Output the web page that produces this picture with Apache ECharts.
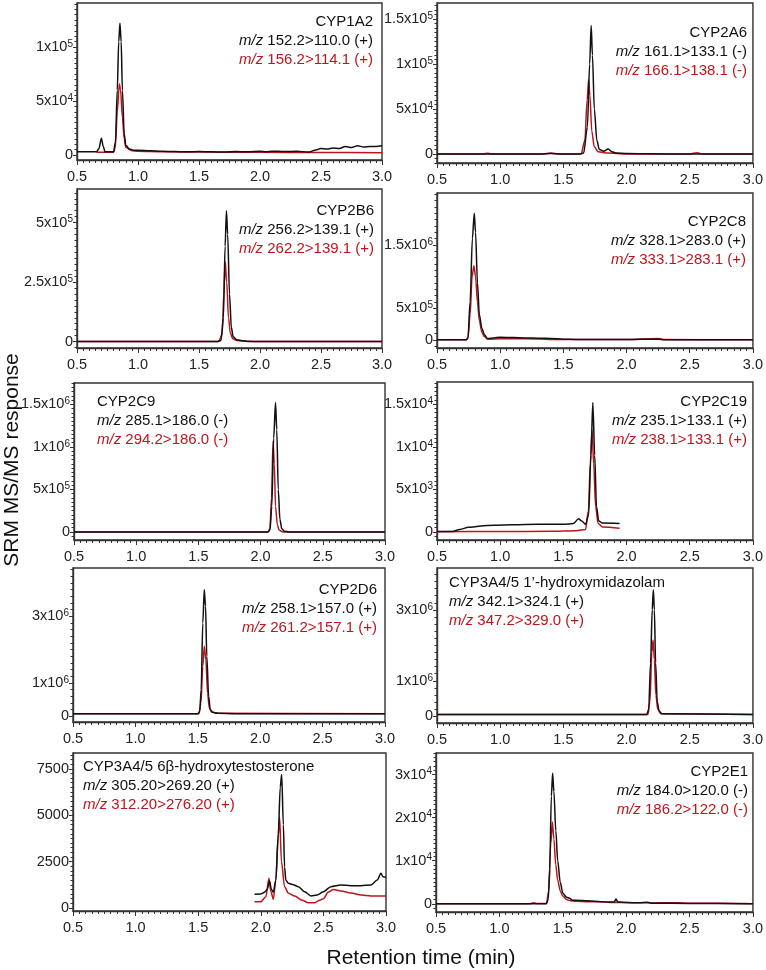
<!DOCTYPE html>
<html><head><meta charset="utf-8">
<script src="https://cdn.jsdelivr.net/npm/echarts@6/dist/echarts.min.js"></script>
<style>html,body{margin:0;padding:0;background:#fff}#c{width:766px;height:970px}</style>
</head><body><div id="c"></div>
<script>
// ---------- DATA (retention time [min], SRM response) ----------
const cyp1a2Black = [[0.5,3000],[0.66,3000],[0.68,6000],[0.70,15500],[0.715,8000],[0.73,3000],[0.80,3000],[0.815,12000],[0.83,60000],[0.842,105000],[0.852,122000],[0.862,105000],[0.872,60000],[0.887,20000],[0.9,9000],[0.93,5500],[0.97,4500],[1.0,4500],[1.1,4000],[1.2,3500],[1.3,3200],[1.4,3000],[1.5,3300],[1.6,3000],[1.7,2800],[1.8,3300],[1.9,3000],[2.0,3500],[2.05,3000],[2.1,3600],[2.2,3200],[2.3,3500],[2.4,2800],[2.45,4500],[2.5,6000],[2.55,5500],[2.6,6500],[2.65,6000],[2.7,8000],[2.75,7000],[2.8,8500],[2.85,7500],[2.9,8000],[2.95,8000],[3.0,8500]];
const cyp1a2Red = [[0.66,2500],[0.80,2500],[0.815,8000],[0.83,40000],[0.847,66000],[0.857,60000],[0.872,35000],[0.887,15000],[0.9,7000],[0.95,4000],[1.0,3500],[1.2,3000],[1.5,2800],[2.0,2500],[2.5,2300],[3.0,2200]];
const cyp2a6Black = [[0.5,0],[1.3,0],[1.4,500],[1.5,0],[1.63,0],[1.66,1000],[1.69,30000],[1.708,100000],[1.72,143000],[1.73,110000],[1.745,50000],[1.765,15000],[1.785,5000],[1.82,3000],[1.855,5500],[1.885,2500],[1.92,1000],[2.0,500],[2.2,300],[2.5,0],[3.0,0]];
const cyp2a6Red = [[0.5,0],[0.85,0],[0.9,800],[0.95,0],[1.35,0],[1.4,1000],[1.45,0],[1.64,0],[1.67,15000],[1.688,60000],[1.70,83000],[1.71,65000],[1.725,25000],[1.745,8000],[1.775,2500],[1.85,1000],[2.0,0],[2.5,0],[2.56,1500],[2.6,0],[3.0,0]];
const cyp2b6Black = [[0.5,0],[1.65,0],[1.68,5000],[1.70,100000],[1.714,400000],[1.725,550000],[1.735,450000],[1.75,200000],[1.765,60000],[1.78,20000],[1.81,8000],[1.86,3000],[1.9,1000],[2.0,0],[3.0,0]];
const cyp2b6Red = [[0.5,0],[1.66,0],[1.69,30000],[1.703,200000],[1.715,335000],[1.727,250000],[1.742,100000],[1.757,35000],[1.777,12000],[1.81,4000],[1.9,0],[3.0,0]];
const cyp2c8Black = [[0.5,0],[0.73,0],[0.745,30000],[0.762,600000],[0.78,1600000],[0.795,2000000],[0.805,1700000],[0.82,900000],[0.835,400000],[0.855,180000],[0.875,80000],[0.9,20000],[0.95,30000],[1.0,40000],[1.1,35000],[1.2,30000],[1.3,25000],[1.4,20000],[1.5,10000],[1.6,5000],[1.8,5000],[2.0,3000],[2.25,10000],[2.3,2000],[2.5,0],[3.0,0]];
const cyp2c8Red = [[0.5,0],[0.73,0],[0.745,20000],[0.762,400000],[0.778,1000000],[0.792,1170000],[0.805,1000000],[0.82,600000],[0.835,300000],[0.855,120000],[0.875,50000],[0.9,10000],[1.0,15000],[1.2,15000],[1.5,5000],[2.0,3000],[2.25,20000],[2.3,3000],[3.0,0]];
const cyp2c9Black = [[0.5,0],[2.06,0],[2.075,20000],[2.09,300000],[2.105,1100000],[2.12,1520000],[2.13,1200000],[2.142,500000],[2.155,150000],[2.17,40000],[2.19,10000],[2.23,0],[3.0,0]];
const cyp2c9Red = [[0.5,0],[2.06,0],[2.075,40000],[2.088,400000],[2.10,1070000],[2.11,800000],[2.12,300000],[2.135,80000],[2.15,20000],[2.18,0],[3.0,0]];
const cyp2c19Black = [[0.5,50],[0.62,50],[0.68,300],[0.75,550],[0.85,700],[0.95,800],[1.1,850],[1.3,900],[1.5,900],[1.58,1000],[1.62,1550],[1.645,1300],[1.675,900],[1.70,2000],[1.718,9000],[1.733,15200],[1.748,9000],[1.762,3000],[1.78,1300],[1.81,1050],[1.945,1000]];
const cyp2c19Red = [[0.5,30],[1.0,60],[1.4,80],[1.6,150],[1.675,300],[1.698,2500],[1.713,8000],[1.727,11900],[1.74,8000],[1.755,3000],[1.775,1000],[1.81,600],[1.945,450]];
const cyp2d6Black = [[0.5,80000],[1.50,80000],[1.515,150000],[1.527,800000],[1.54,2800000],[1.552,3800000],[1.562,3300000],[1.572,1800000],[1.587,600000],[1.60,200000],[1.62,120000],[1.66,90000],[1.8,80000],[3.0,80000]];
const cyp2d6Red = [[0.5,80000],[1.51,80000],[1.525,400000],[1.54,1500000],[1.552,2100000],[1.565,1700000],[1.578,700000],[1.592,250000],[1.61,130000],[1.66,90000],[3.0,80000]];
const cyp3a4MdzBlack = [[0.5,50000],[2.16,50000],[2.175,200000],[2.19,1500000],[2.203,3000000],[2.212,3570000],[2.22,3000000],[2.23,1500000],[2.243,400000],[2.258,150000],[2.28,70000],[3.0,50000]];
const cyp3a4MdzRed = [[0.5,50000],[2.17,50000],[2.185,400000],[2.2,1800000],[2.21,2150000],[2.22,1600000],[2.232,600000],[2.247,200000],[2.27,70000],[3.0,50000]];
const cyp3a4TstBlack = [[1.95,740],[2.0,760],[2.03,850],[2.05,1000],[2.07,1450],[2.085,1000],[2.1,850],[2.12,1500],[2.14,4000],[2.155,6500],[2.167,7200],[2.18,4500],[2.19,2200],[2.2,1500],[2.22,1330],[2.26,1250],[2.3,1150],[2.35,880],[2.4,650],[2.45,700],[2.5,880],[2.56,1150],[2.64,1240],[2.72,1200],[2.8,1200],[2.88,1240],[2.93,1510],[2.96,1870],[2.975,1690],[3.0,1650]];
const cyp3a4TstRed = [[1.95,340],[2.0,340],[2.04,600],[2.065,1600],[2.08,900],[2.1,470],[2.12,1500],[2.138,3800],[2.15,4900],[2.165,2500],[2.19,1150],[2.22,800],[2.27,650],[2.33,420],[2.38,280],[2.43,280],[2.47,420],[2.5,500],[2.54,860],[2.58,990],[2.64,920],[2.72,810],[2.8,700],[2.88,650],[3.0,650]];
const cyp2e1Black = [[0.5,0],[1.25,0],[1.37,0],[1.385,1000],[1.397,8000],[1.41,25000],[1.42,30300],[1.43,26000],[1.445,17000],[1.46,10000],[1.48,5000],[1.5,2500],[1.53,1500],[1.555,1300],[1.57,900],[1.6,800],[1.7,700],[1.8,500],[1.88,400],[1.905,400],[1.92,1100],[1.935,400],[2.0,300],[2.1,250],[2.17,350],[2.2,150],[2.5,100],[3.0,0]];
const cyp2e1Red = [[0.5,0],[1.24,0],[1.27,250],[1.3,50],[1.37,50],[1.39,3000],[1.405,14000],[1.418,19000],[1.43,15000],[1.445,9000],[1.46,5500],[1.48,3000],[1.5,1800],[1.53,1000],[1.56,700],[1.6,600],[1.7,500],[1.8,450],[1.9,300],[2.0,300],[2.1,250],[2.2,200],[2.4,250],[2.5,150],[3.0,0]];

// ---------- TICK LABELS ----------
const xTickLabels = ['0.5','1.0','1.5','2.0','2.5','3.0'];
const cyp1a2Ticks = [0, 50000, 100000];        const cyp1a2TickLabels = ['0','5x10{s|4}','1x10{s|5}'];
const cyp2a6Ticks = [0, 50000, 100000, 150000]; const cyp2a6TickLabels = ['0','5x10{s|4}','1x10{s|5}','1.5x10{s|5}'];
const cyp2b6Ticks = [0, 250000, 500000];        const cyp2b6TickLabels = ['0','2.5x10{s|5}','5x10{s|5}'];
const cyp2c8Ticks = [0, 500000, 1500000];       const cyp2c8TickLabels = ['0','5x10{s|5}','1.5x10{s|6}'];
const cyp2c9Ticks = [0, 500000, 1000000, 1500000]; const cyp2c9TickLabels = ['0','5x10{s|5}','1x10{s|6}','1.5x10{s|6}'];
const cyp2c19Ticks = [0, 5000, 10000, 15000];   const cyp2c19TickLabels = ['0','5x10{s|3}','1x10{s|4}','1.5x10{s|4}'];
const cyp2d6Ticks = [0, 1000000, 3000000];      const cyp2d6TickLabels = ['0','1x10{s|6}','3x10{s|6}'];
const cyp3a4MdzTicks = [0, 1000000, 3000000];   const cyp3a4MdzTickLabels = ['0','1x10{s|6}','3x10{s|6}'];
const cyp3a4TstTicks = [0, 2500, 5000, 7500];   const cyp3a4TstTickLabels = ['0','2500','5000','7500'];
const cyp2e1Ticks = [0, 10000, 20000, 30000];   const cyp2e1TickLabels = ['0','1x10{s|4}','2x10{s|4}','3x10{s|4}'];

// ---------- ANNOTATION TEXT ----------
const cyp1a2Text = ['CYP1A2', '152.2>110.0 (+)', '156.2>114.1 (+)'];
const cyp2a6Text = ['CYP2A6', '161.1>133.1 (-)', '166.1>138.1 (-)'];
const cyp2b6Text = ['CYP2B6', '256.2>139.1 (+)', '262.2>139.1 (+)'];
const cyp2c8Text = ['CYP2C8', '328.1>283.0 (+)', '333.1>283.1 (+)'];
const cyp2c9Text = ['CYP2C9', '285.1>186.0 (-)', '294.2>186.0 (-)'];
const cyp2c19Text = ['CYP2C19', '235.1>133.1 (+)', '238.1>133.1 (+)'];
const cyp2d6Text = ['CYP2D6', '258.1>157.0 (+)', '261.2>157.1 (+)'];
const cyp3a4MdzText = ['CYP3A4/5 1\u2019-hydroxymidazolam', '342.1>324.1 (+)', '347.2>329.0 (+)'];
const cyp3a4TstText = ['CYP3A4/5 6\u03b2-hydroxytestosterone', '305.20>269.20 (+)', '312.20>276.20 (+)'];
const cyp2e1Text = ['CYP2E1', '184.0>120.0 (-)', '186.2>122.0 (-)'];

const yTitle = 'SRM MS/MS response';
const xTitle = 'Retention time (min)';

// ---------- LAYOUT ----------
const FONT = '"Liberation Sans", Arial, Helvetica, sans-serif';
const RED = '#c0141b';
const BLACK = '#111';
const AX = '#333';

const panels = [
  {box:[77,3,382,160],    y:[-4600,140700],   minor:5000,   black:cyp1a2Black, red:cyp1a2Red, ticks:cyp1a2Ticks, labels:cyp1a2TickLabels, text:cyp1a2Text, ta:'right', tx:373, ty:22, ls:19},
  {box:[437,3,753,163],   y:[-10000,168000],  minor:5000,   black:cyp2a6Black, red:cyp2a6Red, ticks:cyp2a6Ticks, labels:cyp2a6TickLabels, text:cyp2a6Text, ta:'right', tx:747, ty:33, ls:19},
  {box:[77,189,382,348],  y:[-27000,641000],  minor:25000,  black:cyp2b6Black, red:cyp2b6Red, ticks:cyp2b6Ticks, labels:cyp2b6TickLabels, text:cyp2b6Text, ta:'right', tx:374, ty:211, ls:19},
  {box:[437,193,753,348], y:[-130000,2320000],minor:100000, black:cyp2c8Black, red:cyp2c8Red, ticks:cyp2c8Ticks, labels:cyp2c8TickLabels, text:cyp2c8Text, ta:'right', tx:746, ty:222, ls:19},
  {box:[74,383,385,540],  y:[-94000,1750000], minor:50000,  black:cyp2c9Black, red:cyp2c9Red, ticks:cyp2c9Ticks, labels:cyp2c9TickLabels, text:cyp2c9Text, ta:'left', tx:97, ty:402, ls:19},
  {box:[437,382,753,540], y:[-940,17600],     minor:500,    black:cyp2c19Black, red:cyp2c19Red, ticks:cyp2c19Ticks, labels:cyp2c19TickLabels, text:cyp2c19Text, ta:'right', tx:747, ty:402, ls:19},
  {box:[73,568,385,722],  y:[-170000,4450000],minor:200000, black:cyp2d6Black, red:cyp2d6Red, ticks:cyp2d6Ticks, labels:cyp2d6TickLabels, text:cyp2d6Text, ta:'right', tx:377, ty:590, ls:19},
  {box:[437,568,755,723], y:[-190000,4180000],minor:200000, black:cyp3a4MdzBlack, red:cyp3a4MdzRed, ticks:cyp3a4MdzTicks, labels:cyp3a4MdzTickLabels, text:cyp3a4MdzText, ta:'left', tx:449, ty:583, ls:19},
  {box:[73,753,386,911],  y:[-162,8353],      minor:250,    black:cyp3a4TstBlack, red:cyp3a4TstRed, ticks:cyp3a4TstTicks, labels:cyp3a4TstTickLabels, text:cyp3a4TstText, ta:'left', tx:83, ty:767, ls:19},
  {box:[436,753,755,912], y:[-1900,35000],    minor:1000,   black:cyp2e1Black, red:cyp2e1Red, ticks:cyp2e1Ticks, labels:cyp2e1TickLabels, text:cyp2e1Text, ta:'right', tx:748, ty:772, ls:19}
];

const grid = [], xAxis = [], yAxis = [], series = [], graphic = [];
const labelRich = { s: { fontSize: 10, fontFamily: FONT, color: '#222', verticalAlign: 'top', lineHeight: 10 } };

panels.forEach((p, i) => {
  const [l, t, r, b] = p.box;
  grid.push({ left: l, top: t, width: r - l, height: b - t, show: true, borderColor: AX, borderWidth: 1.4, backgroundColor: 'transparent' });
  xAxis.push({
    type: 'value', gridIndex: i, min: 0.5, max: 3.0, interval: 0.5,
    axisLine: { show: true, onZero: false, lineStyle: { color: AX, width: 1.4 } },
    axisTick: { show: true, inside: false, length: 5, lineStyle: { color: AX, width: 1 } },
    minorTick: { show: true, splitNumber: 10, length: 3, lineStyle: { color: AX, width: 1 } },
    splitLine: { show: false }, minorSplitLine: { show: false },
    axisLabel: { show: true, margin: 9, fontSize: 14.5, fontFamily: FONT, color: '#222',
      formatter: v => xTickLabels[Math.round((v - 0.5) / 0.5)] }
  });
  const labelMap = {};
  p.ticks.forEach((v, k) => labelMap[v] = p.labels[k]);
  yAxis.push({
    type: 'value', gridIndex: i, min: p.y[0], max: p.y[1],
    axisLine: { show: true, onZero: false, lineStyle: { color: AX, width: 1.4 } },
    axisTick: { show: true, inside: false, length: 4, customValues: p.ticks, lineStyle: { color: AX, width: 1 } },
    splitLine: { show: false },
    axisLabel: { show: true, margin: 4, fontSize: 14.5, fontFamily: FONT, color: '#222', lineHeight: 16,
      customValues: p.ticks, rich: labelRich, formatter: v => labelMap[v] !== undefined ? labelMap[v] : '' }
  });
  const minorVals = [];
  for (let v = Math.ceil(p.y[0] / p.minor) * p.minor; v <= p.y[1]; v += p.minor) minorVals.push(v);
  yAxis.push({
    type: 'value', gridIndex: i, min: p.y[0], max: p.y[1], position: 'left',
    axisLine: { show: false }, splitLine: { show: false }, axisLabel: { show: false },
    axisTick: { show: true, inside: false, length: 2.5, customValues: minorVals, lineStyle: { color: AX, width: 1 } }
  });
  series.push({ type: 'line', xAxisIndex: i, yAxisIndex: 2 * i, data: p.red, showSymbol: false, smooth: 0.3, smoothMonotone: 'x',
    lineStyle: { color: RED, width: 1.5 }, itemStyle: { color: RED }, animation: false, z: 2 });
  series.push({ type: 'line', xAxisIndex: i, yAxisIndex: 2 * i, data: p.black, showSymbol: false, smooth: 0.3, smoothMonotone: 'x',
    lineStyle: { color: BLACK, width: 1.5 }, itemStyle: { color: BLACK }, animation: false, z: 3 });

  const rich = {
    ib: { fontStyle: 'italic', fontSize: 15, fontFamily: FONT, fill: BLACK },
    ir: { fontStyle: 'italic', fontSize: 15, fontFamily: FONT, fill: RED }
  };
  const lines = [p.text[0], '{ib|m/z} ' + p.text[1], '{ir|m/z} ' + p.text[2]];
  const colors = [BLACK, BLACK, RED];
  lines.forEach((s, k) => {
    graphic.push({ type: 'text', x: p.tx, y: p.ty + k * p.ls, z: 10,
      style: { text: s, fill: colors[k], fontSize: 15, fontFamily: FONT, align: p.ta, verticalAlign: 'middle', rich: rich } });
  });
});

graphic.push({ type: 'text', x: 12, y: 460, rotation: Math.PI / 2, z: 10,
  style: { text: yTitle, fill: '#111', fontSize: 21, fontFamily: FONT, align: 'center', verticalAlign: 'middle' } });
graphic.push({ type: 'text', x: 421, y: 958, z: 10,
  style: { text: xTitle, fill: '#111', fontSize: 21, fontFamily: FONT, align: 'center', verticalAlign: 'middle' } });

const chart = echarts.init(document.getElementById('c'), null, { renderer: 'canvas' });
chart.setOption({ animation: false, backgroundColor: '#fff', grid, xAxis, yAxis, series, graphic });
</script></body></html>
